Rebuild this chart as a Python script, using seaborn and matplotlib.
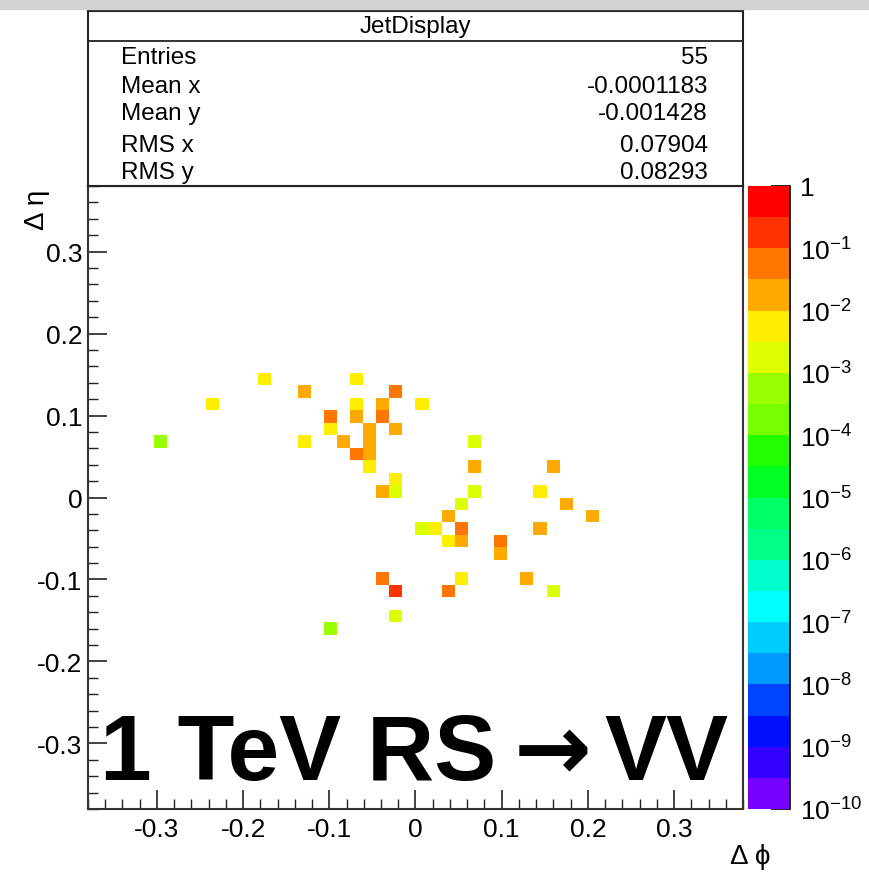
import numpy as np
import pandas as pd
import matplotlib
matplotlib.use("Agg")
import matplotlib.pyplot as plt
from matplotlib.colors import ListedColormap, LogNorm
from matplotlib.ticker import MultipleLocator, FuncFormatter, LogLocator, NullFormatter
from matplotlib.patches import Rectangle
import seaborn as sns

# cell contents (bin centres of a 50x50 grid on +-0.38)
dphi = [-0.0684, -0.1748, -0.1292, -0.0228, -0.2356, -0.0684, -0.038, 0.0076,
        -0.0988, -0.0684, -0.038, -0.0988, -0.0532, -0.0228, -0.2964, -0.1292,
        -0.0836, -0.0532, 0.0684, -0.0684, -0.0532, -0.0532, 0.0684, 0.1596,
        -0.0228, -0.038, -0.0228, 0.0684, 0.1444, 0.0532, 0.1748, 0.038,
        0.2052, 0.0076, 0.0228, 0.0532, 0.1444, 0.038, 0.0532, 0.0988,
        0.0988, -0.038, 0.0532, 0.1292, -0.0228, 0.038, 0.1596, -0.0228,
        -0.0988]
deta = [0.1444, 0.1444, 0.1292, 0.1292, 0.114, 0.114, 0.114, 0.114,
        0.0988, 0.0988, 0.0988, 0.0836, 0.0836, 0.0836, 0.0684, 0.0684,
        0.0684, 0.0684, 0.0684, 0.0532, 0.0532, 0.038, 0.038, 0.038,
        0.0228, 0.0076, 0.0076, 0.0076, 0.0076, -0.0076, -0.0076, -0.0228,
        -0.0228, -0.038, -0.038, -0.038, -0.038, -0.0532, -0.0532, -0.0532,
        -0.0684, -0.0988, -0.0988, -0.0988, -0.114, -0.114, -0.114, -0.1444,
        -0.1596]
content = [0.0056, 0.0056, 0.018, 0.056, 0.0056, 0.0056, 0.018, 0.0056,
           0.056, 0.018, 0.056, 0.0056, 0.018, 0.018, 0.00056, 0.0056,
           0.018, 0.018, 0.0018, 0.056, 0.018, 0.0056, 0.018, 0.018,
           0.0056, 0.018, 0.0018, 0.0018, 0.0056, 0.0018, 0.018, 0.018,
           0.018, 0.0018, 0.0056, 0.056, 0.018, 0.0056, 0.018, 0.056,
           0.018, 0.056, 0.0056, 0.018, 0.18, 0.056, 0.0018, 0.0018,
           0.00056]

# ROOT-like palette, low -> high (20 half-decade bands)
palette = ["#7700FF", "#3300FF", "#0011FF", "#0044FF", "#0099FF", "#00CCFF",
           "#00FFFF", "#00FFCC", "#00FF88", "#00FF66", "#00FF22", "#22FF00",
           "#77FF00", "#99FF00", "#DDFF00", "#FFEE00", "#FFAA00", "#FF7700",
           "#FF3300", "#FF0000"]
cbar_exponents = [0, -1, -2, -3, -4, -5, -6, -7, -8, -9, -10]

stats_names = ["Entries", "Mean x", "Mean y", "RMS x", "RMS y"]
stats_values = ["55", "-0.0001183", "-0.001428", "0.07904", "0.08293"]

sns.set_theme(style="white")
plt.rcParams["font.family"] = ["Liberation Sans", "DejaVu Sans"]
plt.rcParams["mathtext.fontset"] = "custom"
plt.rcParams["mathtext.rm"] = "Liberation Sans"
plt.rcParams["mathtext.it"] = "Liberation Sans:italic"
plt.rcParams["mathtext.bf"] = "Liberation Sans:bold"
plt.rcParams["text.color"] = "black"
plt.rcParams["xtick.color"] = "black"
plt.rcParams["ytick.color"] = "black"
plt.rcParams["xtick.labelcolor"] = "black"
plt.rcParams["ytick.labelcolor"] = "black"

W, H = 870, 878
fig = plt.figure(figsize=(W / 100, H / 100), dpi=100)


def px_rect(x0, y0, x1, y1):
    return [x0 / W, 1 - y1 / H, (x1 - x0) / W, (y1 - y0) / H]


# grey band along the very top of the screenshot
fig.patches.append(Rectangle((0, 1 - 10 / H), 1, 10 / H, transform=fig.transFigure,
                             color="#d2d2d2", zorder=0))

ax = fig.add_axes(px_rect(88, 187, 743, 810))
cax = fig.add_axes(px_rect(748, 187, 790, 810))

df = pd.DataFrame({"dphi": dphi, "deta": deta, "w": content})
sns.histplot(data=df, x="dphi", y="deta", weights="w", bins=50,
             binrange=((-0.38, 0.38), (-0.38, 0.38)),
             cmap=ListedColormap(palette), cbar=False, ax=ax)
mesh = ax.collections[0]
mesh.set_norm(LogNorm(1e-10, 1))
cbar = fig.colorbar(mesh, cax=cax)

ax.set_xlim(-0.38, 0.38)
ax.set_ylim(-0.38, 0.38)
ax.set_xlabel("")
ax.set_ylabel("")
fmt = FuncFormatter(lambda v, p: "%g" % round(v, 2))
for axis in (ax.xaxis, ax.yaxis):
    axis.set_major_locator(MultipleLocator(0.1))
    axis.set_minor_locator(MultipleLocator(0.02))
    axis.set_major_formatter(fmt)
ax.tick_params(which="both", direction="in", top=False, right=False,
               left=True, bottom=True, color="#222222")
ax.tick_params(which="major", length=14, width=1.2, labelsize=19)
ax.tick_params(which="minor", length=7.5, width=1.0)
ax.tick_params(axis="x", which="major", pad=6)
ax.tick_params(axis="y", which="major", pad=4)
for sp in ax.spines.values():
    sp.set_visible(True)
    sp.set_color("#333333")
    sp.set_linewidth(1.5)

# colour bar
cbar.outline.set_visible(False)
cax.spines["right"].set_visible(True)
cax.spines["right"].set_color("black")
cax.spines["right"].set_linewidth(1.2)
cax.yaxis.set_ticks_position("right")
cax.set_yticks([10.0 ** e for e in cbar_exponents])
cax.set_yticklabels(["1" if e == 0 else "$10^{%d}$" % e for e in cbar_exponents])
cax.yaxis.set_minor_locator(LogLocator(base=10, subs=np.arange(2, 10)))
cax.yaxis.set_minor_formatter(NullFormatter())
cax.tick_params(which="both", direction="in", color="black")
cax.tick_params(which="major", length=14, width=1.2, labelsize=19, pad=7)
cax.tick_params(which="minor", length=6.5, width=1.0)

# statistics box
sbox = fig.add_axes(px_rect(88, 12, 743, 187))
sbox.set_xlim(0, 655)
sbox.set_ylim(175, 0)
sbox.set_xticks([])
sbox.set_yticks([])
sbox.set_facecolor("white")
for sp in sbox.spines.values():
    sp.set_visible(True)
    sp.set_color("#222222")
    sp.set_linewidth(1.5)
sbox.axhline(30, color="#222222", lw=1.3)
sbox.text(327.5, 15, "JetDisplay", ha="center", va="center", fontsize=17.5)
row_y = [46, 75, 102, 134, 161]
for name, val, yy in zip(stats_names, stats_values, row_y):
    sbox.text(33, yy, name, ha="left", va="center", fontsize=17.5)
    sbox.text(620, yy, val, ha="right", va="center", fontsize=17.5)

# axis titles
fig.text(37 / W, 1 - 210 / H, "Δ η", rotation=90, ha="center", va="center", fontsize=20)
fig.text(750 / W, 1 - 857 / H, "Δ ϕ", ha="center", va="center", fontsize=20)

# big label
big = dict(fontsize=67, fontweight="bold", color="black")
fig.text(100 / W, 1 - 780 / H, "1 TeV RS", ha="left", va="baseline", **big)
fig.text(553 / W, 1 - 780 / H, "→", ha="center", va="baseline",
         family=["DejaVu Sans"], **big)
fig.text(728 / W, 1 - 780 / H, "VV", ha="right", va="baseline", **big)

fig.savefig("out.png", dpi=100)
